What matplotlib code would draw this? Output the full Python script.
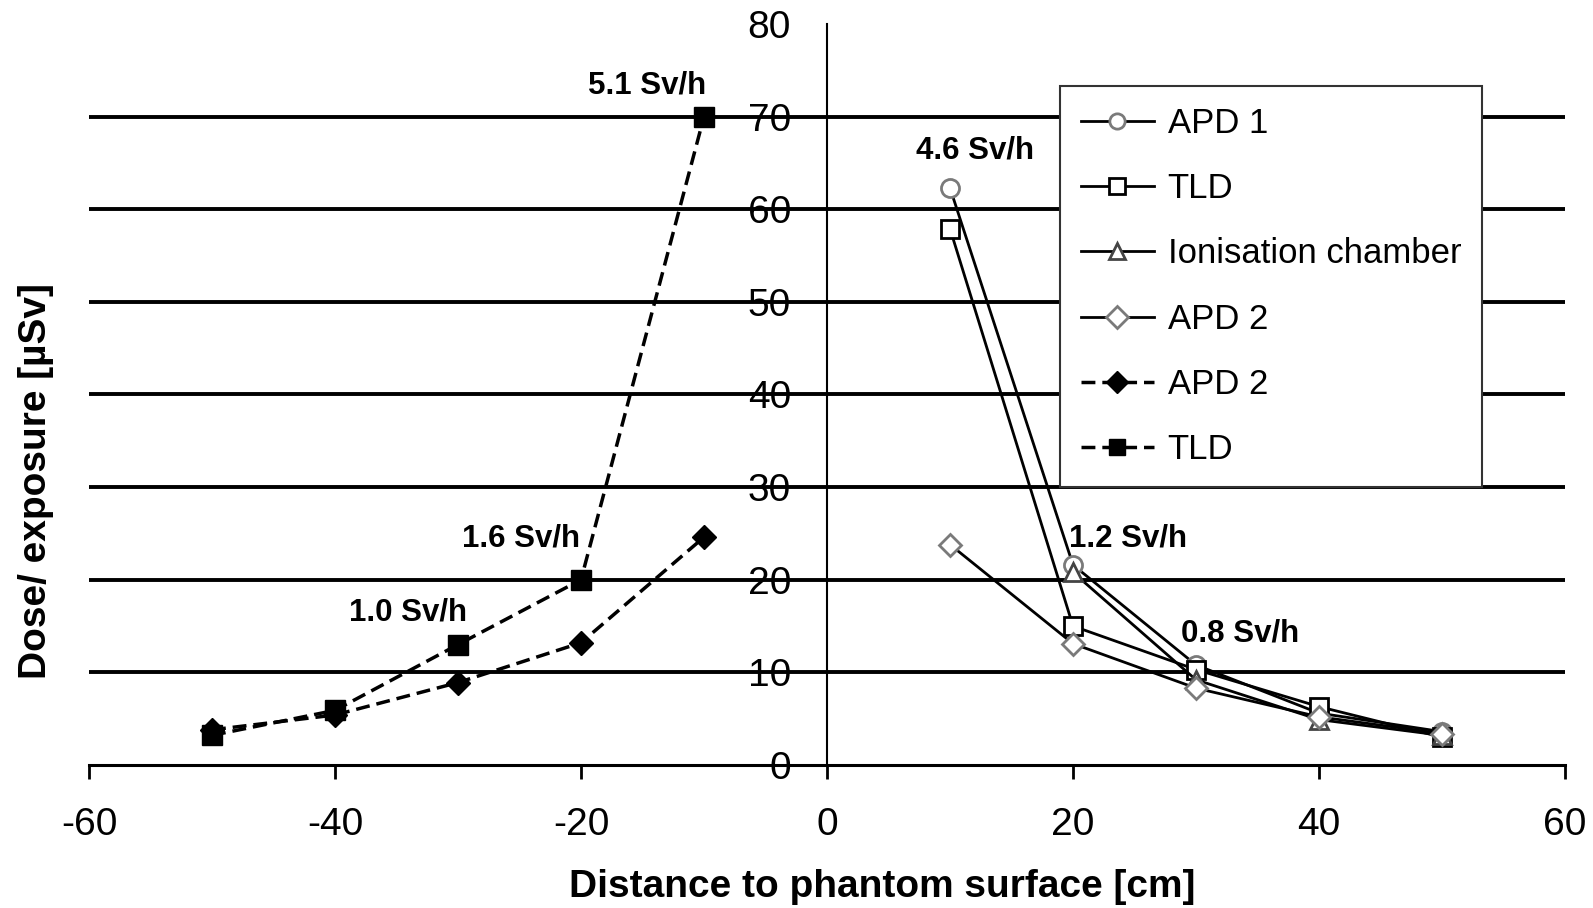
import matplotlib
matplotlib.use('Agg')
import matplotlib.pyplot as plt

plt.rcParams['font.family'] = ['Liberation Sans', 'DejaVu Sans']
plt.rcParams['axes.unicode_minus'] = False

# distances [cm]
x_right = [10, 20, 30, 40, 50]
x_ion = [20, 30, 40, 50]
x_left = [-50, -40, -30, -20, -10]

# dose per exposure [uSv]
apd1 = [62.3, 21.6, 10.8, 5.6, 3.6]
tld = [57.9, 15.0, 10.3, 6.3, 3.0]
ion_chamber = [20.8, 9.2, 4.9, 3.2]
apd2 = [23.8, 13.1, 8.3, 5.2, 3.4]
apd2_left = [3.8, 5.4, 8.9, 13.2, 24.6]
tld_left = [3.2, 5.9, 13.0, 20.0, 70.0]

legend_labels = ['APD 1', 'TLD', 'Ionisation chamber', 'APD 2', 'APD 2', 'TLD']

# dose rate notes
note_text = ['5.1 Sv/h', '1.6 Sv/h', '1.0 Sv/h', '4.6 Sv/h', '1.2 Sv/h', '0.8 Sv/h']
note_x = [-14.6, -24.9, -34.1, 12.0, 24.5, 33.6]
note_y = [73.4, 24.4, 16.5, 66.3, 24.4, 14.2]

x_ticks = [-60, -40, -20, 0, 20, 40, 60]
y_ticks = [0, 10, 20, 30, 40, 50, 60, 70, 80]
grid_levels = [10, 20, 30, 40, 50, 60, 70]

fig = plt.figure(figsize=(15.93, 9.08), dpi=100)
ax = fig.add_axes([89 / 1593, 1 - 765 / 908, (1565 - 89) / 1593, (765 - 24) / 908])

ax.hlines(grid_levels, -60, 60, colors='black', lw=2.8, zorder=1)

l1, = ax.plot(x_right, apd1, '-', color='black', lw=2, marker='o', ms=13,
              mfc='white', mec='#7a7a7a', mew=2, zorder=3)
l2, = ax.plot(x_right, tld, '-', color='black', lw=2, marker='s', ms=13,
              mfc='white', mec='black', mew=2, zorder=3)
l3, = ax.plot(x_ion, ion_chamber, '-', color='black', lw=2, marker='^', ms=13,
              mfc='white', mec='#444444', mew=2, zorder=3)
l4, = ax.plot(x_right, apd2, '-', color='black', lw=2, marker='D', ms=11,
              mfc='white', mec='#7a7a7a', mew=2, zorder=3)
l5, = ax.plot(x_left, apd2_left, '--', color='black', lw=2.5, marker='D', ms=12.5,
              mfc='black', mec='black', dashes=(4, 2), zorder=3)
l6, = ax.plot(x_left, tld_left, '--', color='black', lw=2.5, marker='s', ms=15,
              mfc='black', mec='black', dashes=(4, 2), zorder=4)

for t, x, y in zip(note_text, note_x, note_y):
    ax.text(x, y, t, ha='center', va='center', fontsize=22.5, fontweight='bold')

ax.set_xlim(-60, 60)
ax.set_ylim(0, 80)
ax.set_xticks(x_ticks)
ax.set_yticks(y_ticks)

for s in ['top', 'right']:
    ax.spines[s].set_visible(False)
ax.spines['left'].set_position(('data', 0))
ax.spines['left'].set_linewidth(1.5)
ax.spines['bottom'].set_linewidth(2.2)

ax.tick_params(axis='x', direction='out', length=10, width=2, pad=20, labelsize=28)
ax.tick_params(axis='y', length=0, pad=26, labelsize=28)

fig.text(36 / 1593, 1 - 481 / 908, 'Dose/ exposure [µSv]', rotation=90,
         ha='center', va='center', fontsize=28, fontweight='bold')
fig.text(882 / 1593, 1 - 887 / 908, 'Distance to phantom surface [cm]',
         ha='center', va='center', fontsize=28, fontweight='bold')

leg = ax.legend([l1, l2, l3, l4, l5, l6], legend_labels, loc='upper left',
                bbox_to_anchor=(1060 / 1593, 1 - 86 / 908), bbox_transform=fig.transFigure,
                borderaxespad=0, fontsize=25, labelspacing=0.93, borderpad=0.6,
                handlelength=2.1, handletextpad=0.4, fancybox=False, framealpha=1)
leg.get_frame().set_edgecolor('#333333')
leg.get_frame().set_linewidth(1.5)
for h in leg.legend_handles:
    h.set_markersize(11)

fig.savefig('out.png', dpi=100)
